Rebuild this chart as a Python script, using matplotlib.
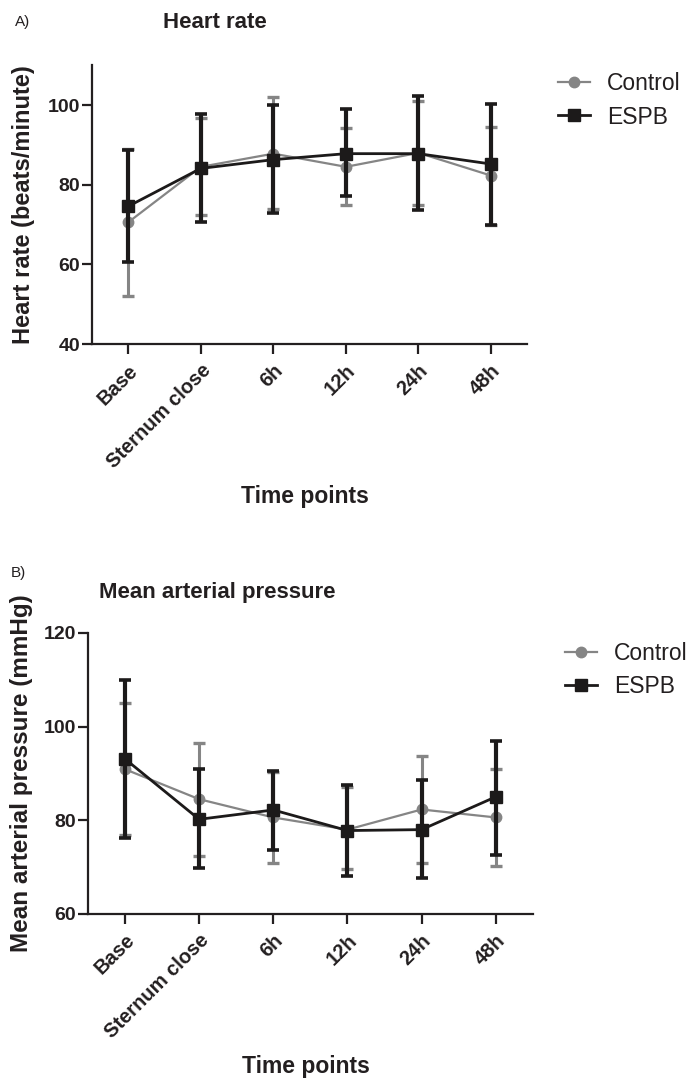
import matplotlib
matplotlib.use("Agg")
import matplotlib.pyplot as plt
from matplotlib.lines import Line2D
import numpy as np

plt.rcParams["font.family"] = ["Liberation Sans", "DejaVu Sans"]

time_points = ["Base", "Sternum close", "6h", "12h", "24h", "48h"]

# heart rate (beats/minute): mean and upper/lower bar ends
hr_control = [70.6, 84.5, 87.8, 84.5, 88.0, 82.3]
hr_control_hi = [89.0, 96.7, 102.1, 94.3, 101.0, 94.6]
hr_control_lo = [52.2, 72.3, 73.8, 75.0, 75.0, 70.0]
hr_espb = [74.6, 84.1, 86.3, 87.8, 87.8, 85.2]
hr_espb_hi = [88.7, 97.7, 99.9, 98.9, 102.3, 100.3]
hr_espb_lo = [60.6, 70.6, 72.8, 77.3, 73.7, 70.0]

# mean arterial pressure (mmHg)
map_control = [90.9, 84.5, 80.6, 78.0, 82.3, 80.6]
map_control_hi = [105.0, 96.4, 90.4, 87.0, 93.8, 91.0]
map_control_lo = [76.9, 72.4, 70.8, 69.5, 70.8, 70.3]
map_espb = [93.1, 80.2, 82.2, 77.8, 78.0, 85.0]
map_espb_hi = [109.9, 90.9, 90.5, 87.5, 88.5, 97.0]
map_espb_lo = [76.3, 69.8, 73.6, 68.1, 67.6, 72.6]

GRAY = "#858585"
BLACK = "#1c1a1a"
TXT = "#231f20"


def draw_panel(fig, ax, ctrl, ctrl_hi, ctrl_lo, espb, espb_hi, espb_lo,
               ylim, yticks, ylabel, ylabel_size, ylabel_x, xlabel_xy, legend_xy):
    x = np.arange(len(time_points))
    ctrl = np.array(ctrl)
    espb = np.array(espb)
    ax.errorbar(x, ctrl, yerr=[ctrl - np.array(ctrl_lo), np.array(ctrl_hi) - ctrl],
                color=GRAY, ecolor=GRAY, lw=1.6, elinewidth=2.2, capsize=4.2, capthick=2.4,
                marker="o", ms=7.5, zorder=2)
    ax.errorbar(x, espb, yerr=[espb - np.array(espb_lo), np.array(espb_hi) - espb],
                color=BLACK, ecolor=BLACK, lw=2.0, elinewidth=3.0, capsize=4.5, capthick=2.6,
                marker="s", ms=8.5, zorder=3)
    ax.set_xlim(-0.5, 5.5)
    ax.set_ylim(*ylim)
    ax.set_yticks(yticks)
    ax.set_xticks(x)
    ax.set_xticklabels(time_points, rotation=45, ha="right", rotation_mode="anchor",
                       fontsize=14.5, fontweight="bold", color=TXT)
    for lab in ax.get_yticklabels():
        lab.set_fontsize(14)
        lab.set_fontweight("bold")
        lab.set_color(TXT)
    for side in ("top", "right"):
        ax.spines[side].set_visible(False)
    for side in ("left", "bottom"):
        ax.spines[side].set_linewidth(1.6)
        ax.spines[side].set_color(TXT)
    ax.tick_params(axis="both", length=7, width=1.6, color=TXT, pad=1.5)
    ax.tick_params(axis="x", pad=5)
    ax.set_ylabel(ylabel, fontsize=ylabel_size, fontweight="bold", color=TXT)
    ax.yaxis.set_label_coords(ylabel_x, 0.5)
    ax.set_xlabel("Time points", fontsize=16.5, fontweight="bold", color=TXT)
    ax.xaxis.set_label_coords(*xlabel_xy)

    handles = [
        Line2D([], [], color=GRAY, lw=1.6, marker="o", ms=7.5),
        Line2D([], [], color=BLACK, lw=2.0, marker="s", ms=8.5),
    ]
    leg = fig.legend(handles, ["Control", "ESPB"], loc="center left",
                     bbox_to_anchor=legend_xy, bbox_transform=fig.transFigure,
                     frameon=False, fontsize=16.5, handlelength=1.4, labelspacing=0.45,
                     handletextpad=0.75, borderpad=0, borderaxespad=0)
    for t in leg.get_texts():
        t.set_color(TXT)


fig = plt.figure(figsize=(6.92, 10.79), dpi=100)

ax_a = fig.add_axes([0.133, 0.681, 0.629, 0.2586])
draw_panel(fig, ax_a, hr_control, hr_control_hi, hr_control_lo, hr_espb, hr_espb_hi, hr_espb_lo,
           (40, 110), [40, 60, 80, 100], "Heart rate (beats/minute)", 17,
           -0.131, (0.49, -0.505), (0.806, 0.907))
fig.text(0.021, 0.980, "A)", fontsize=11, color=TXT, va="center")
fig.text(0.311, 0.979, "Heart rate", fontsize=16, fontweight="bold", color=TXT,
         ha="center", va="center")

ax_b = fig.add_axes([0.127, 0.153, 0.643, 0.2604])
draw_panel(fig, ax_b, map_control, map_control_hi, map_control_lo, map_espb, map_espb_hi, map_espb_lo,
           (60, 120), [60, 80, 100, 120], "Mean arterial pressure (mmHg)", 17.5,
           -0.124, (0.49, -0.502), (0.816, 0.379))
fig.text(0.015, 0.469, "B)", fontsize=11, color=TXT, va="center")
fig.text(0.314, 0.451, "Mean arterial pressure", fontsize=16, fontweight="bold", color=TXT,
         ha="center", va="center")

fig.savefig("out.png", dpi=100)
